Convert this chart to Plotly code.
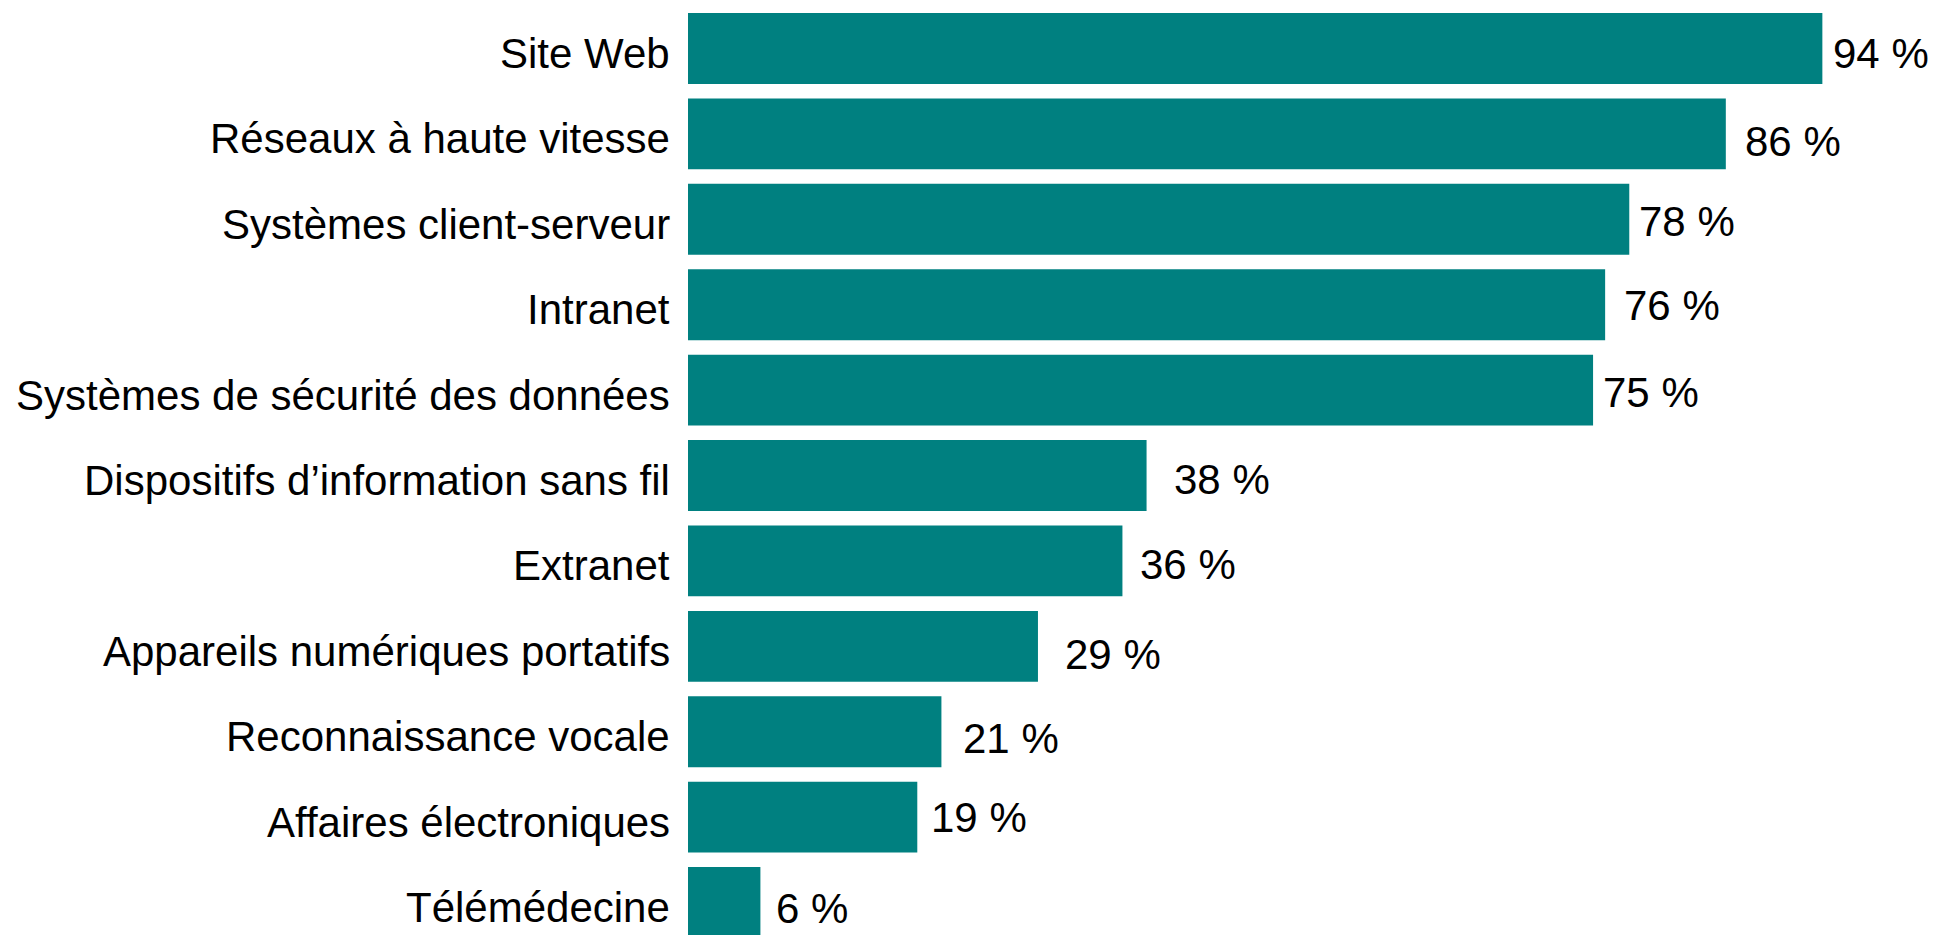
import plotly.graph_objects as go

# Share of organisations using each technology (%)
categories = [
    "Site Web",
    "Réseaux à haute vitesse",
    "Systèmes client-serveur",
    "Intranet",
    "Systèmes de sécurité des données",
    "Dispositifs d’information sans fil",
    "Extranet",
    "Appareils numériques portatifs",
    "Reconnaissance vocale",
    "Affaires électroniques",
    "Télémédecine",
]
values = [94, 86, 78, 76, 75, 38, 36, 29, 21, 19, 6]

# Per-label placement tweaks for the value annotations: (gap right of bar, drop below centre) in px
label_nudge = [(9, 5), (17, 8), (8, 2), (17, 1), (8, 2), (25, 4),
               (16, 4), (25, 8), (20, 7), (12, 0), (14, 6)]

BAR_COLOR = "#008080"
FONT = "Liberation Sans, Arial, sans-serif"
FONT_SIZE = 42
TEXT_FONT = dict(family=FONT, size=FONT_SIZE, color="#000000")

fig = go.Figure(
    go.Bar(
        x=values,
        y=categories,
        orientation="h",
        marker=dict(color=BAR_COLOR, line=dict(width=0)),
        hoverinfo="skip",
    )
)

# Category names, set just left of the bars' base
for cat in categories:
    fig.add_annotation(
        x=0, y=cat, xref="x", yref="y",
        text=cat,
        showarrow=False,
        xanchor="right", yanchor="middle",
        xshift=-16, yshift=-5,
        font=TEXT_FONT,
    )

# Value labels at the end of each bar
for cat, val, (dx, dy) in zip(categories, values, label_nudge):
    fig.add_annotation(
        x=val, y=cat, xref="x", yref="y",
        text=f"{val} %",
        showarrow=False,
        xanchor="left", yanchor="middle",
        xshift=dx, yshift=-dy,
        font=TEXT_FONT,
    )

fig.update_layout(
    width=1937,
    height=935,
    margin=dict(l=688, r=0, t=0, b=0),
    paper_bgcolor="white",
    plot_bgcolor="white",
    bargap=0.17,
    showlegend=False,
    font=TEXT_FONT,
)

fig.update_xaxes(
    range=[0, 103.5],
    visible=False,
    showgrid=False,
    zeroline=False,
)

fig.update_yaxes(
    categoryorder="array",
    categoryarray=categories,
    range=[10.38, -0.568],
    showgrid=False,
    zeroline=False,
    showline=False,
    ticks="",
    showticklabels=False,
)

fig.write_html("out.html")
